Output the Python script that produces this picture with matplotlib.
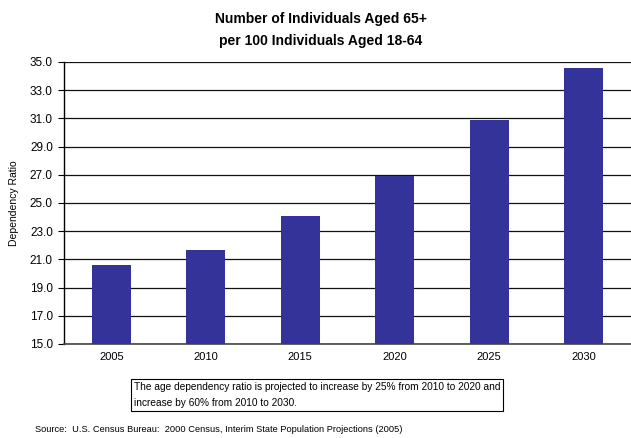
import matplotlib
matplotlib.use("Agg")
import matplotlib.pyplot as plt

years = ["2005", "2010", "2015", "2020", "2025", "2030"]
ratios = [20.6, 21.7, 24.1, 26.9, 30.9, 34.6]
yticks = [15.0, 17.0, 19.0, 21.0, 23.0, 25.0, 27.0, 29.0, 31.0, 33.0, 35.0]

title = "Number of Individuals Aged 65+\nper 100 Individuals Aged 18-64"
ylabel = "Dependency Ratio"
note = ("The age dependency ratio is projected to increase by 25% from 2010 to 2020 and\n"
        "increase by 60% from 2010 to 2030.")
source = "Source:  U.S. Census Bureau:  2000 Census, Interim State Population Projections (2005)"

plt.rcParams['font.family'] = ['Liberation Sans', 'DejaVu Sans']

W, H = 631, 438
fig = plt.figure(figsize=(W / 100, H / 100), dpi=100)
ax = fig.add_axes([64 / W, (H - 344) / H, (631 - 64) / W, (344 - 62) / H])

x = range(len(years))
ax.bar(x, ratios, width=0.41, color="#333399", zorder=3)
ax.set_xlim(-0.5, len(years) - 0.5)
ax.set_ylim(15, 35)
ax.set_yticks(yticks)
ax.set_yticklabels([f"{v:.1f}" for v in yticks], fontsize=8.5)
ax.set_xticks(list(x))
ax.set_xticklabels(years, fontsize=8)
ax.tick_params(axis="x", length=0, pad=6)
ax.tick_params(axis="y", length=4, width=0.8, pad=4)
ax.yaxis.grid(True, color="#111111", linewidth=0.9, zorder=0)
for s in ["top", "right"]:
    ax.spines[s].set_visible(False)
ax.spines["left"].set_linewidth(1.0)
ax.spines["bottom"].set_linewidth(1.2)
ax.spines["bottom"].set_color("#444444")
ax.set_ylabel(ylabel, fontsize=7.5)
ax.yaxis.set_label_coords((19 - 64) / 567, 0.5)

fig.text(321 / W, 1 - 30 / H, title, ha="center", va="center",
         fontsize=10, fontweight="bold", linespacing=1.65)

fig.text(134 / W, 1 - 395 / H, note, ha="left", va="center", fontsize=7.3,
         linespacing=1.75,
         bbox=dict(boxstyle="square,pad=0.25", facecolor="white", edgecolor="black", linewidth=0.8))

fig.text(35 / W, 1 - 430 / H, source, ha="left", va="center", fontsize=6.7)

fig.savefig("out.png", dpi=100)
